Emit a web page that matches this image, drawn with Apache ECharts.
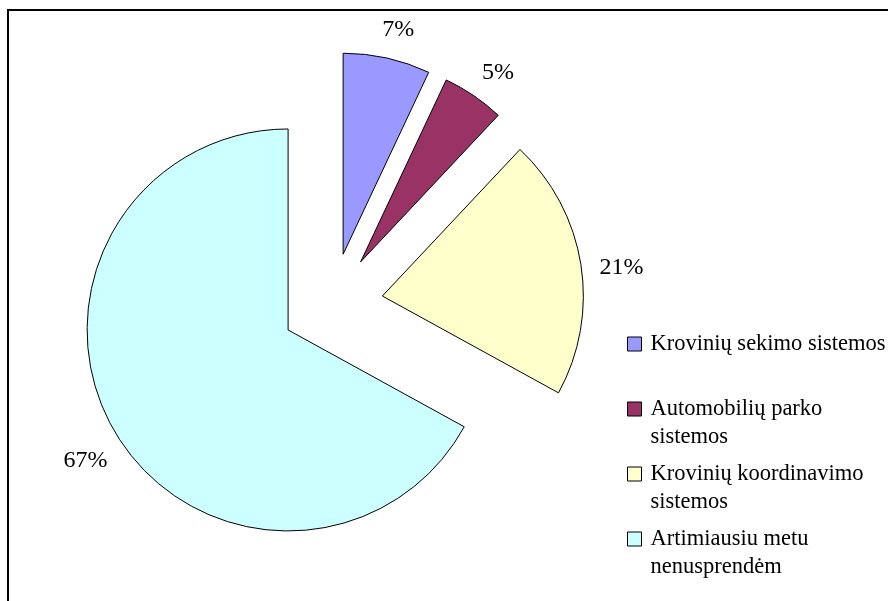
<!DOCTYPE html>
<html>
<head>
<meta charset="utf-8">
<script src="https://cdn.jsdelivr.net/npm/echarts@6/dist/echarts.min.js"></script>
<style>
  html, body { margin: 0; padding: 0; background: #fff; }
  #chart { width: 888px; height: 601px; }
</style>
</head>
<body>
<div id="chart"></div>
<script>
// shares of systems, clockwise from 12 o'clock
const names = ['Krovinių sekimo sistemos', 'Automobilių parko sistemos',
  'Krovinių koordinavimo sistemos', 'Artimiausiu metu nenusprendėm'];
const legendLines = ['Krovinių sekimo sistemos', 'Automobilių parko\nsistemos',
  'Krovinių koordinavimo\nsistemos', 'Artimiausiu metu\nnenusprendėm'];
const values = [7, 5, 21, 67];
const colors = ['#9999FF', '#993366', '#FFFFCC', '#CCFFFF'];

const font = '"Liberation Serif", "Times New Roman", serif';
const center = [332, 304];
const offset = 51;

const chart = echarts.init(document.getElementById('chart'));

const pieData = values.map((v, i) => ({
  name: names[i], value: v, selected: true,
  itemStyle: { color: colors[i] }
}));

// two-line entries get an empty first line so the box sits on the first text line
const legendTops = [330, 367, 432, 497];
const legends = names.map((n, i) => ({
  orient: 'vertical',
  left: 627,
  top: legendTops[i],
  padding: 0,
  itemWidth: 14,
  itemHeight: 14,
  icon: 'rect',
  selectedMode: false,
  data: [{ name: n, icon: 'rect', itemStyle: { color: colors[i], borderColor: '#000', borderWidth: 1 } }],
  formatter: () => (legendLines[i].indexOf('\n') >= 0 ? '\n' : '') + legendLines[i],
  textStyle: {
    fontFamily: font, fontSize: 22.5, color: '#000', lineHeight: 28,
    padding: [0, 0, 0, 4]
  }
}));

chart.setOption({
  animation: false,
  backgroundColor: '#fff',
  legend: legends,
  graphic: [{
    type: 'rect',
    shape: { x: 8, y: 10, width: 1000, height: 1000 },
    style: { fill: 'none', stroke: '#000', lineWidth: 2 },
    silent: true
  }],
  series: [
    {
      type: 'pie',
      center: center,
      radius: [0, 201],
      startAngle: 90,
      selectedMode: 'multiple',
      selectedOffset: offset,
      avoidLabelOverlap: false,
      label: { show: false },
      labelLine: { show: false },
      emphasis: { disabled: true },
      itemStyle: { borderColor: '#000', borderWidth: 1 },
      data: pieData
    },
    {
      // percent labels placed just outside each slice
      type: 'pie',
      center: center,
      radius: [235, 237],
      startAngle: 90,
      selectedMode: 'multiple',
      selectedOffset: offset,
      silent: true,
      emphasis: { disabled: true },
      itemStyle: { color: 'transparent', borderWidth: 0 },
      label: {
        show: true, position: 'inside', formatter: '{p|{d}%}',
        rich: {
          p: { fontFamily: font, fontSize: 24, color: '#000', padding: [18, 0, 0, 6] }
        }
      },
      labelLine: { show: false },
      data: values.map((v, i) => ({ name: names[i], value: v, selected: true }))
    }
  ]
});
</script>
</body>
</html>
